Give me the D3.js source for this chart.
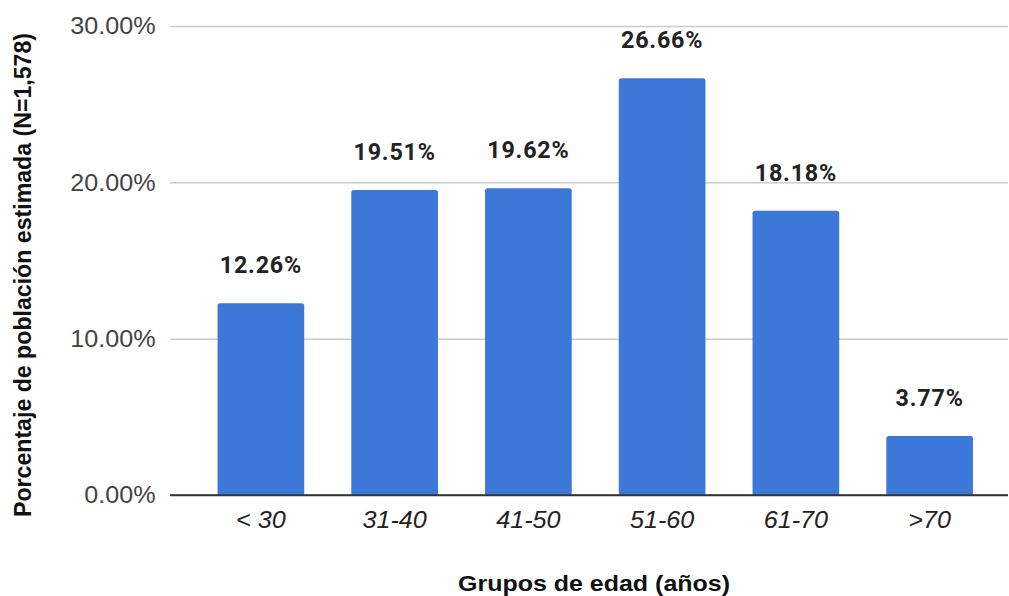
<!DOCTYPE html>
<html>
<head>
<meta charset="utf-8">
<script src="https://cdn.jsdelivr.net/npm/d3@7"></script>
<style>
  html, body { margin: 0; padding: 0; background: #fff; }
  svg { display: block; }
</style>
</head>
<body>
<svg id="chart" width="1009" height="596"></svg>
<script>
// Age groups and the estimated share of the population in each (%)
const categories = ["< 30", "31-40", "41-50", "51-60", "61-70", ">70"];
const values = [12.26, 19.51, 19.62, 26.66, 18.18, 3.77];
const yTicks = [0, 10, 20, 30];
const yTitle = "Porcentaje de población estimada (N=1,578)";
const xTitle = "Grupos de edad (años)";

const svg = d3.select("#chart");
const plot = { left: 170, right: 1008, top: 26, bottom: 495 };
const sansFont = "'Liberation Sans', Arial, sans-serif";
const widen = 1.08; // slightly wide lettering

const y = d3.scaleLinear().domain([0, 30]).range([plot.bottom, plot.top]);
const x = d3.scaleBand()
  .domain(categories)
  .range([194, 996.5])
  .paddingInner(0.352)
  .paddingOuter(0.176);

// Horizontal gridlines with percentage labels
const yAxis = d3.axisLeft(y)
  .tickValues(yTicks)
  .tickSize(-(plot.right - plot.left))
  .tickPadding(0)
  .tickFormat(d => d.toFixed(2) + "%");

const gy = svg.append("g")
  .attr("transform", `translate(${plot.left},0)`)
  .call(yAxis);
gy.select(".domain").remove();
gy.selectAll(".tick line")
  .attr("stroke", d => d === 0 ? "#333" : "#ccc")
  .attr("stroke-width", 1.5);
gy.selectAll(".tick text")
  .attr("x", 0)
  .attr("dy", "0.34em")
  .attr("transform", `translate(-14.5,0) scale(${widen},1)`)
  .attr("fill", "#444")
  .style("font-family", sansFont)
  .style("font-size", "23.3px");

// Bars with slightly rounded tops
const r = 2.5;
svg.append("g").selectAll("path")
  .data(values)
  .join("path")
  .attr("fill", "#3c78d8")
  .attr("d", (v, i) => {
    const x0 = x(categories[i]), w = x.bandwidth();
    const yt = y(v), yb = y(0);
    return `M${x0},${yb}V${yt + r}Q${x0},${yt} ${x0 + r},${yt}H${x0 + w - r}Q${x0 + w},${yt} ${x0 + w},${yt + r}V${yb}Z`;
  });

// Baseline drawn over the bars
svg.append("line")
  .attr("x1", plot.left).attr("x2", plot.right)
  .attr("y1", y(0)).attr("y2", y(0))
  .attr("stroke", "#333").attr("stroke-width", 1.5);

// Value labels above each bar
svg.append("g").selectAll("text")
  .data(values)
  .join("text")
  .attr("x", (v, i) => x(categories[i]) + x.bandwidth() / 2)
  .attr("y", v => y(v) - 30)
  .attr("text-anchor", "middle")
  .attr("fill", "#222")
  .style("font-family", "Roboto, 'Liberation Sans', sans-serif")
  .style("font-weight", "bold")
  .style("font-size", "23.3px")
  .style("letter-spacing", "0.8px")
  .text(v => v.toFixed(2) + "%");

// Category labels under the baseline
const gx = svg.append("g")
  .attr("transform", `translate(0,${plot.bottom})`)
  .call(d3.axisBottom(x).tickSize(0));
gx.select(".domain").remove();
gx.selectAll(".tick text")
  .attr("y", 0)
  .attr("dy", 0)
  .attr("transform", `translate(0,33.3) scale(${widen},1)`)
  .attr("fill", "#222")
  .style("font-family", sansFont)
  .style("font-style", "italic")
  .style("font-size", "23.3px");

// Axis titles
svg.append("text")
  .attr("x", 594).attr("y", 591)
  .attr("text-anchor", "middle")
  .attr("textLength", 272)
  .attr("lengthAdjust", "spacingAndGlyphs")
  .attr("fill", "#111")
  .style("font-family", sansFont)
  .style("font-weight", "bold")
  .style("font-size", "22px")
  .text(xTitle);

svg.append("text")
  .attr("transform", "translate(31,275) rotate(-90)")
  .attr("text-anchor", "middle")
  .attr("textLength", 484)
  .attr("lengthAdjust", "spacingAndGlyphs")
  .attr("fill", "#111")
  .style("font-family", sansFont)
  .style("font-weight", "bold")
  .style("font-size", "23.5px")
  .text(yTitle);
</script>
</body>
</html>
